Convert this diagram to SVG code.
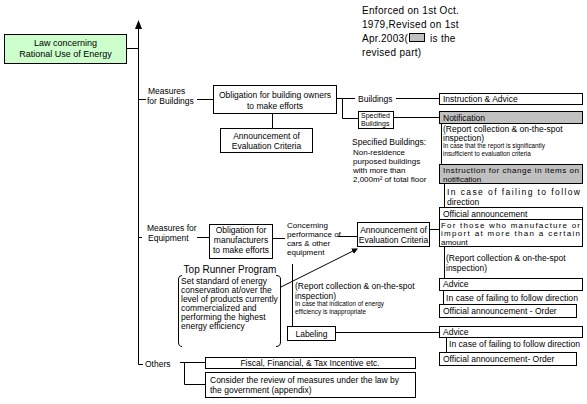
<svg xmlns="http://www.w3.org/2000/svg" width="587" height="404" viewBox="0 0 587 404">
<defs>
<style>
text{font-family:"Liberation Sans",Arial,sans-serif;font-size:8.5px;fill:#000}
.n{font-size:10px}
.s{font-size:6.3px}
.m{font-size:8px}
.c{text-anchor:middle}
.bx{fill:#fff;stroke:#000;stroke-width:1}
.gr{fill:#c0c0c0;stroke:#000;stroke-width:1}
.gn{fill:#ccffcc;stroke:#000;stroke-width:1}
.ln{fill:none;stroke:#000;stroke-width:1}
</style>
<marker id="ah" markerWidth="6" markerHeight="6" refX="5" refY="3" orient="auto" markerUnits="userSpaceOnUse">
<path d="M0,0 L6,3 L0,6 Z" fill="#000"/>
</marker>
</defs>
<rect width="587" height="404" fill="#fff"/>

<g id="connectors" class="ln">
<path d="M127,48.5 H138.5"/>
<path d="M138.5,27 V364.5 H143"/>
<path d="M138.5,99.5 H146 M197,99.5 H213.5"/>
<path d="M272.5,113.5 V128.5"/>
<path d="M336.5,98.5 H342.5 V118.5 H358.5 M342.5,98.5 H355 M396,98.5 H439.5"/>
<path d="M393.5,117.5 H439.5"/>
<path d="M441.5,123.5 V164.5"/>
<path d="M444.5,183.5 V207.5"/>
<path d="M429.5,229.5 H439.5"/>
<path d="M444.5,246.5 V278.5"/>
<path d="M443.5,290.5 V304.5"/>
<path d="M446.5,337.5 V352.5"/>
<path d="M138.5,237.5 H142 M197,237.5 H209.5"/>
<path d="M272.5,238.5 H285"/>
<path d="M338,236.5 H357.5"/>
<path d="M281,287 L357,249" marker-end="url(#ah)"/>
<path d="M292.5,264 V326.5"/>
<path d="M335.5,332.5 H439.5"/>
<path d="M180,362.5 H205.5 M184.5,362.5 V384.5 H205.5"/>
</g>
<polygon points="138.5,20 135,29 142,29" fill="#000"/>

<g id="note">
<text class="n" x="362" y="14" letter-spacing="0.3">Enforced on 1st Oct.</text>
<text class="n" x="362" y="28" letter-spacing="0.3">1979,Revised on 1st</text>
<text class="n" x="362" y="42" letter-spacing="0.3">Apr.2003(</text>
<rect class="gr" x="409.5" y="33.5" width="15" height="8"/>
<text class="n" x="430" y="42" letter-spacing="0.3">is the</text>
<text class="n" x="362" y="56" letter-spacing="0.3">revised part)</text>
</g>

<g id="law">
<rect class="gn" x="4.5" y="34.5" width="122" height="29"/>
<text class="c" x="65.5" y="46" style="font-size:9px">Law concerning</text>
<text class="c" x="65.5" y="57" style="font-size:9px">Rational Use of Energy</text>
</g>

<g id="measures-buildings">
<text x="148" y="94">Measures</text>
<text x="147" y="104">for Buildings</text>
</g>

<g id="obligation-buildings">
<rect class="bx" x="213.5" y="85.5" width="123" height="28"/>
<text class="c" x="275" y="98">Obligation for building owners</text>
<text class="c" x="275" y="109">to make efforts</text>
</g>

<g id="announce-buildings">
<rect class="bx" x="220.5" y="128.5" width="92" height="24"/>
<text class="c" x="266.5" y="139">Announcement of</text>
<text class="c" x="266.5" y="149">Evaluation Criteria</text>
</g>

<g id="buildings-label"><text x="358" y="102">Buildings</text></g>

<g id="specified-buildings">
<rect class="bx" x="358.5" y="111.5" width="35" height="17"/>
<text x="361" y="118" style="font-size:7px">Specified</text>
<text x="361" y="126.3" style="font-size:7px">Buildings</text>
</g>

<g id="specified-note">
<text x="352" y="145">Specified Buildings:</text>
<text class="m" x="353" y="154.5">Non-residence</text>
<text class="m" x="353" y="163.5">purposed buildings</text>
<text class="m" x="353" y="172.5">with more than</text>
<text class="m" x="353" y="181.5">2,000m² of total floor</text>
</g>

<g id="instruction-advice">
<rect class="bx" x="439.5" y="93.5" width="143" height="11"/>
<text x="443" y="102">Instruction &amp; Advice</text>
</g>

<g id="notification">
<rect class="gr" x="439.5" y="111.5" width="143" height="12"/>
<text x="443" y="121">Notification</text>
</g>

<g id="report-1">
<text x="443" y="131.5">(Report collection &amp; on-the-spot</text>
<text x="443" y="141">inspection)</text>
<text class="s" x="443" y="148">In case that the report is significantly</text>
<text class="s" x="443" y="155.5">insufficient to evaluation criteria</text>
</g>

<g id="instr-change">
<rect class="gr" x="439.5" y="164.5" width="143" height="19"/>
<text class="m" x="443" y="172.5" textLength="136" lengthAdjust="spacing">Instruction for change in items on</text>
<text class="m" x="443" y="181.5">notification</text>
</g>

<g id="fail-1">
<text x="447" y="195" textLength="133" lengthAdjust="spacing">In case of failing to follow</text>
<text x="447" y="205">direction</text>
</g>

<g id="official-1">
<rect class="bx" x="439.5" y="207.5" width="143" height="12"/>
<text x="443" y="217">Official announcement</text>
</g>

<g id="for-those">
<rect class="bx" x="439.5" y="219.5" width="143" height="27"/>
<text class="m" x="441" y="227.5" textLength="139" lengthAdjust="spacing">For those who manufacture or</text>
<text class="m" x="441" y="236" textLength="139" lengthAdjust="spacing">import at more than a certain</text>
<text class="m" x="441" y="244.5">amount</text>
</g>

<g id="report-2">
<text x="446" y="261">(Report collection &amp; on-the-spot</text>
<text x="446" y="271">inspection)</text>
</g>

<g id="advice-1">
<rect class="bx" x="439.5" y="278.5" width="143" height="12"/>
<text x="443" y="287">Advice</text>
</g>

<g id="fail-2"><text x="446" y="301" textLength="132" lengthAdjust="spacingAndGlyphs">In case of failing to follow direction</text></g>

<g id="official-order-1">
<rect class="bx" x="439.5" y="304.5" width="137" height="13"/>
<text x="443" y="314">Official announcement - Order</text>
</g>

<g id="measures-equipment">
<text x="147" y="231">Measures for</text>
<text x="148" y="241">Equipment</text>
</g>

<g id="obligation-mfr">
<rect class="bx" x="209.5" y="224.5" width="63" height="34"/>
<text class="c" x="241" y="233">Obligation for</text>
<text class="c" x="241" y="243">manufacturers</text>
<text class="c" x="241" y="253">to make efforts</text>
</g>

<g id="concerning">
<text class="m" x="287" y="228">Concerning</text>
<text class="m" x="287" y="237">performance of</text>
<text class="m" x="287" y="246">cars &amp; other</text>
<text class="m" x="287" y="255">equipment</text>
</g>

<g id="announce-equip">
<rect class="bx" x="357.5" y="222.5" width="72" height="24"/>
<text class="c" x="393.5" y="232.5">Announcement of</text>
<text class="c" x="393.5" y="242.5">Evaluation Criteria</text>
</g>

<g id="top-runner">
<text class="c" x="230" y="273" style="font-size:10px">Top Runner Program</text>
<path class="ln" d="M182,275.5 Q178.5,275.5 178.5,279 V342 Q178.5,346.5 182,346.5"/>
<path class="ln" d="M276,275.5 Q280.5,275.5 280.5,279 V342 Q280.5,346.5 276,346.5"/>
<text x="181" y="284">Set standard of energy</text>
<text x="181" y="293">conservation at/over the</text>
<text x="181" y="302">level of products currently</text>
<text x="181" y="311">commercialized and</text>
<text x="181" y="320">performing the highest</text>
<text x="181" y="329">energy efficiency</text>
</g>

<g id="report-3">
<text x="295" y="289">(Report collection &amp; on-the-spot</text>
<text x="295" y="298.5">inspection)</text>
<text class="s" x="295" y="306">In case that indication of energy</text>
<text class="s" x="295" y="314">efficiency is inappropriate</text>
</g>

<g id="labeling">
<rect class="bx" x="287.5" y="326.5" width="48" height="14"/>
<text class="c" x="311.5" y="337">Labeling</text>
</g>

<g id="advice-2">
<rect class="bx" x="439.5" y="326.5" width="143" height="11"/>
<text x="443" y="335">Advice</text>
</g>

<g id="fail-3"><text x="449" y="347" textLength="131" lengthAdjust="spacingAndGlyphs">In case of failing to follow direction</text></g>

<g id="official-order-2">
<rect class="bx" x="439.5" y="352.5" width="137" height="13"/>
<text x="443" y="362">Official announcement- Order</text>
</g>

<g id="others"><text x="145" y="367">Others</text></g>

<g id="fiscal">
<rect class="bx" x="205.5" y="357.5" width="210" height="11"/>
<text class="c" x="310" y="366">Fiscal, Financial, &amp; Tax Incentive etc.</text>
</g>

<g id="consider">
<rect class="bx" x="205.5" y="372.5" width="210" height="25"/>
<text x="210" y="383">Consider the review of measures under the law by</text>
<text x="210" y="392.5">the government (appendix)</text>
</g>
</svg>
